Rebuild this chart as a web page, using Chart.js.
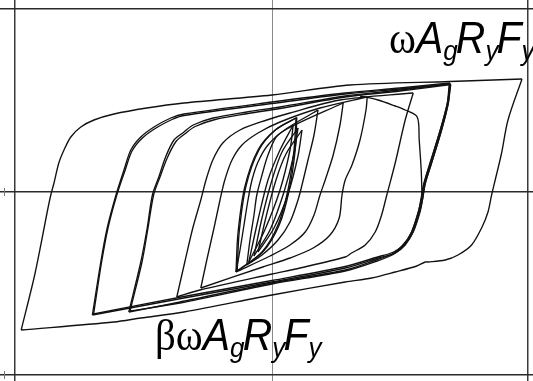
<!DOCTYPE html>
<html lang="en">
<head>
  <meta charset="UTF-8" />
  <title>Brace hysteresis</title>
  <script src="https://cdn.jsdelivr.net/npm/chart.js"></script>
  <style>
    html, body { margin: 0; padding: 0; background: #fff; }
    canvas { display: block; }
  </style>
</head>
<body>
  <canvas id="hyst" width="533" height="381"></canvas>

  <script>
    // displacement (mm) / axial force (kN), one closed cycle per array
    // each cycle starts at its compression peak, runs up to the tension peak and back
    const cycleA = [[-62.7,-1380],[-59.5,-860],[-57.8,-530],[-56.2,-200],[-55.3,-30],[-54.5,90],[-53.3,290],[-52,420],[-50.3,550],[-47.8,650],[-44.5,720],[-39.5,780],[-31.3,840],[-22,890],[0,970],[19.5,1070],[44.5,1105],[62.5,1130],
      [59,720],[57.4,390],[55.8,120],[54.9,-30],[54,-200],[52.4,-360],[49.9,-530],[46.5,-630],[43.3,-680],[39,-700],[38.3,-700],[36.2,-740],[30.8,-800],[24.9,-860],[18.3,-900],[0,-1030],[-22,-1200],[-32.8,-1260],[-39.5,-1300],[-62.7,-1380]];
    const cycleB = [[-44.9,-1230],[-42.8,-700],[-41.2,-360],[-39,-30],[-37,220],[-35.3,420],[-32.8,550],[-29.5,650],[-25.3,740],[-22,780],[0,900],[18.3,990],[32,1040],[44.5,1090],
      [44.1,890],[42.4,620],[39.9,290],[38.3,90],[37.6,-80],[37,-200],[35.3,-400],[33.3,-530],[30.8,-610],[26.6,-660],[18.3,-760],[0,-900],[-22,-1060],[-44.9,-1230]];
    const cycleB2 = [[-44.6,-1220],[-42.6,-700],[-41,-360],[-38.8,-30],[-36.7,220],[-35,410],[-32.4,540],[-29,640],[-25,725],[-22,765],[0,885],[18.3,980],[32,1030],[44.3,1080],
      [43.8,880],[42,610],[39.5,290],[38,90],[37.2,-80],[36.6,-200],[34.9,-400],[32.9,-530],[30.4,-600],[26.4,-650],[18.3,-745],[0,-885],[-22,-1045],[-44.6,-1220]];
    const cycleC = [[-35.8,-1200],[-32.8,-700],[-31.2,-360],[-29.9,-30],[-28.3,150],[-26.6,350],[-24.5,520],[-22,600],[-19.7,670],[-14.7,740],[-6.3,800],[2,850],[18.3,960],[32,1020],[44.5,1080],
      [43.8,880],[42,610],[39.5,280],[38,80],[37.3,-80],[36.5,-210],[34.8,-410],[32.5,-540],[30,-620],[26,-680],[18.3,-780],[0,-910],[-23,-1100],[-35.8,-1200]];
    const cycleC2 = [[-35.5,-1190],[-32.5,-700],[-31,-360],[-29.6,-30],[-28,150],[-26.2,340],[-24,505],[-21.5,590],[-19.2,655],[-14.2,725],[-6,785],[2,835],[18.3,950],[32,1010],[44.7,1075],
      [44,880],[42.3,610],[39.8,280],[38.3,80],[37.6,-80],[36.8,-210],[35.1,-410],[32.8,-540],[30.3,-625],[26.3,-690],[18.3,-790],[0,-920],[-23,-1110],[-35.5,-1190]];
    const cycleD = [[-23.8,-1050],[-21.8,-700],[-19.8,-360],[-17.8,-80],[-16.5,120],[-14.8,320],[-12.3,490],[-8,620],[-1.3,720],[4.5,790],[17,920],[35.3,990],
      [33.3,720],[30.8,290],[28.7,-30],[27.4,-230],[25.8,-400],[23.3,-530],[19.9,-610],[18.3,-650],[7,-760],[0,-820],[-18,-980],[-23.8,-1050]];
    const cycleE = [[-17.8,-960],[-16.3,-680],[-14.5,-360],[-13,-80],[-11.8,120],[-10,320],[-7.5,470],[-3.5,590],[2,700],[12,840],[23.8,950],
      [23.5,820],[22,520],[20,270],[18.3,120],[17.5,-30],[16.8,-260],[14.5,-430],[10.3,-560],[4.5,-660],[-2.3,-750],[-17.8,-960]];
    const cycleF = [[-9,-800],[-8,-580],[-7,-330],[-6,-80],[-5,120],[-3.5,300],[-1,470],[3.3,620],[17.8,890],
      [17,670],[15.3,370],[13.3,120],[12,-30],[10.5,-230],[8.3,-400],[4.5,-530],[-0.5,-640],[-9,-800]];
    const cycleG = [[-6.3,-730],[-5.5,-480],[-4.5,-230],[-3.8,-30],[-2.5,170],[-1,370],[1.5,570],[11.5,820],
      [10.5,570],[9,320],[7.5,70],[6.5,-80],[4.5,-300],[1.5,-480],[-2.5,-630],[-6.3,-730]];
    const cycleG2 = [[-9,-800],[-8.5,-410],[-6.8,50],[-3.5,420],[0.8,620],[6,740],
      [5.5,420],[4,20],[1.5,-330],[-2.5,-600],[-9,-800]];
    const cycleG3 = [[-8.7,-790],[-8.2,-400],[-6.5,60],[-3.2,425],[1,625],[6.2,745],
      [5.8,420],[4.3,20],[1.8,-330],[-2.2,-595],[-8.7,-790]];
    const cycleH1 = [[-5.8,-700],[-3.5,-280],[-1,120],[2,420],[5.3,670],[4.5,420],[2,20],[-1.8,-380],[-5.8,-700]];
    const cycleH2 = [[-4.5,-640],[-2.5,-260],[0,120],[2.5,400],[6.5,640],[5.5,380],[3,0],[-0.5,-380],[-4.5,-640]];
    const cycleH3 = [[-3.5,-600],[-1.5,-250],[1,120],[3.5,380],[7.5,620],[6.5,360],[4,-20],[0.5,-360],[-3.5,-600]];
    // strength loss at the end of the last positive excursion
    const fracture = [[22,960],[26.5,920],[30.8,860],[33.3,820],[36.3,750],[36.8,520],[37.3,220],[37.5,-30]];

    const cycles = [cycleA, cycleB, cycleB2, cycleC, cycleC2, cycleD, cycleE, cycleF, cycleG, cycleG2, cycleG3, cycleH1, cycleH2, cycleH3];

    // reference lines: displacement and force limits
    const xGrid = [-64.3, 0, 64];
    const yGrid = [1830, 0, -1830];

    const labelTop = [["ω", "g"], ["A", "i"], ["g", "s"], ["R", "i"], ["y", "s"], ["F", "i"], ["y", "s"]];
    const labelBottom = [["β", "g"], ["ω", "g"], ["A", "i"], ["g", "s"], ["R", "i"], ["y", "s"], ["F", "i"], ["y", "s"]];

    // split every cycle at its tension peak so the reversal corners stay sharp
    const branches = [];
    cycles.forEach(c => {
      let k = 0;
      c.forEach((p, i) => { if (p[0] > c[k][0]) k = i; });
      branches.push(c.slice(0, k + 1), c.slice(k));
    });
    branches.push(fracture);

    const formulaLabels = {
      id: "formulaLabels",
      afterDraw(chart) {
        const { ctx, scales } = chart;
        // clipped tick marks left of the frame
        ctx.save();
        ctx.strokeStyle = "#777";
        ctx.lineWidth = 1;
        [0, -1830].forEach(v => {
          const y = scales.y.getPixelForValue(v);
          ctx.beginPath();
          ctx.moveTo(4.5, y - 4);
          ctx.lineTo(4.5, y + 4);
          ctx.stroke();
        });
        ctx.restore();

        const put = (parts, xv, yv) => {
          const x = scales.x.getPixelForValue(xv);
          const y = scales.y.getPixelForValue(yv);
          ctx.save();
          ctx.fillStyle = "#000";
          ctx.textBaseline = "alphabetic";
          ctx.translate(x, y);
          ctx.scale(0.93, 1);
          let cx = 0;
          parts.forEach(([t, kind]) => {
            if (kind === "g") ctx.font = "44px 'Liberation Serif'";
            else if (kind === "i") ctx.font = "italic 44px 'Liberation Sans'";
            else ctx.font = "italic 28px 'Liberation Sans'";
            ctx.fillText(t, cx, kind === "s" ? 7 : 0);
            cx += ctx.measureText(t).width - (kind === "s" ? 2 : 0);
          });
          ctx.restore();
        };
        put(labelTop, 29.25, 1390);
        put(labelBottom, -29.25, -1580);
      }
    };

    new Chart(document.getElementById("hyst"), {
      type: "scatter",
      data: {
        datasets: branches.map(b => ({
          data: b.map(([x, y]) => ({ x, y })),
          showLine: true,
          borderColor: "#111",
          borderWidth: 1.35,
          pointRadius: 0,
          tension: 0.3
        }))
      },
      options: {
        responsive: false,
        animation: false,
        devicePixelRatio: 1,
        layout: { padding: 0 },
        plugins: { legend: { display: false }, tooltip: { enabled: false } },
        scales: {
          x: {
            type: "linear",
            min: -68,
            max: 65.25,
            afterBuildTicks: s => { s.ticks = xGrid.map(v => ({ value: v })); },
            ticks: { display: false },
            border: { display: false },
            grid: {
              drawTicks: false,
              color: c => c.tick && c.tick.value === 0 ? "#8a8a8a" : "#3a3a3a",
              lineWidth: c => c.tick && c.tick.value === 0 ? 1 : 1.5
            }
          },
          y: {
            type: "linear",
            min: -1890,
            max: 1920,
            afterBuildTicks: s => { s.ticks = yGrid.map(v => ({ value: v })); },
            ticks: { display: false },
            border: { display: false },
            grid: {
              drawTicks: false,
              color: "#2a2a2a",
              lineWidth: c => c.tick && c.tick.value === 0 ? 1.4 : 1.5
            }
          }
        }
      },
      plugins: [formulaLabels]
    });
  </script>
</body>
</html>
